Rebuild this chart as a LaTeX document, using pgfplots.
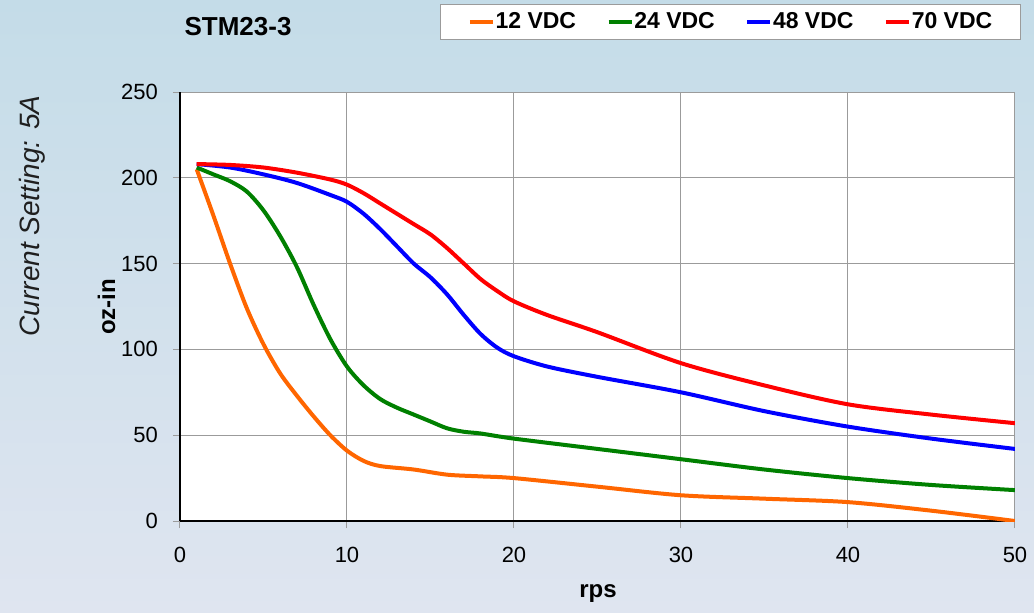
\documentclass[border=0pt]{standalone}
\usepackage{fontspec}
\setmainfont{Liberation Sans}
\usepackage{pgfplots}
\pgfplotsset{compat=1.18}
\definecolor{c12}{HTML}{FF6600}
\definecolor{c24}{HTML}{008000}
\definecolor{c48}{HTML}{0000FF}
\definecolor{c70}{HTML}{FF0000}
\definecolor{gridgray}{RGB}{155,155,155}
\definecolor{bgtop}{RGB}{196,220,232}
\definecolor{bgbot}{RGB}{223,229,240}
\begin{document}
\begin{tikzpicture}
\shade[top color=bgtop, bottom color=bgbot] (-90pt,-45.5pt) rectangle (427pt,260.5pt);
\begin{axis}[
  at={(0,0)}, anchor=south west,
  scale only axis, width=417.5pt, height=214.5pt,
  xmin=0, xmax=50, ymin=0, ymax=250,
  xtick={0,10,...,50}, ytick={0,50,...,250},
  axis lines=left, axis line style={-, black, line width=0.6pt},
  axis background/.style={fill=white},
  grid=major, major grid style={draw=gridgray, line width=0.5pt},
  tick align=outside, major tick length=3.5pt,
  tick style={gridgray, line width=0.5pt},
  /pgf/number format/assume math mode=true,
  tick label style={font=\fontsize{11}{13}\selectfont},
  yticklabel style={xshift=-4pt},
  xticklabel style={yshift=-6pt},
  xlabel={rps}, ylabel={oz-in},
  xlabel style={at={(axis description cs:0.5006,-0.168)}, anchor=center, font=\bfseries\fontsize{12}{14}\selectfont},
  ylabel style={at={(axis description cs:-0.088,0.499)}, anchor=center, rotate=0, font=\bfseries\fontsize{12}{14}\selectfont},
  title={STM23-3},
  title style={at={(axis description cs:0.0695,1.1235)}, anchor=center, font=\bfseries\fontsize{13}{15}\selectfont},
  legend columns=4,
  legend image code/.code={\draw[#1, line width=2pt] (0pt,0pt)--(11.5pt,0pt);},
  legend style={at={(axis description cs:1.0066,1.2051)}, anchor=north east,
    draw=gridgray, fill=white, inner xsep=13.5pt, inner ysep=3pt,
    font=\bfseries\fontsize{11.5}{13}\selectfont,
    nodes={inner xsep=0.4pt, inner ysep=1pt},
    /tikz/every even column/.append style={column sep=14.8pt}},
  every axis plot/.append style={line width=2pt, smooth, tension=0.5, no markers},
]
\addplot[c12] coordinates {(1,205) (2,178) (3,150) (4,124) (5,103) (6,86) (7,73) (8,61) (9,50) (10,41) (11,35) (12,32) (14,30) (16,27) (18,26) (20,25) (25,20) (30,15) (35,13) (40,11) (45,6) (50,0)};
\addlegendentry{12 VDC}
\addplot[c24] coordinates {(1,206) (2,202) (3,198) (4,192) (5,181) (6,166) (7,148) (8,126) (9,106) (10,90) (11,79) (12,71) (13,66) (14,62) (15,58) (16,54) (17,52) (18,51) (20,48) (25,42) (30,36) (35,30) (40,25) (45,21) (50,18)};
\addlegendentry{24 VDC}
\addplot[c48] coordinates {(1,208) (3,206) (5,202) (7,197) (9,190) (10,186) (11,179) (12,170) (13,160) (14,150) (15,142) (16,132) (17,120) (18,109) (19,101) (20,96) (22,90) (25,84) (30,75) (35,64) (40,55) (45,48) (50,42)};
\addlegendentry{48 VDC}
\addplot[c70] coordinates {(1,208) (3,207.5) (5,206) (7,203) (9,199) (10,196) (11,191) (12,185) (13,179) (14,173) (15,167) (16,159) (17,150) (18,141) (19,134) (20,128) (22,120) (25,110) (30,92) (35,79) (40,68) (45,62) (50,57)};
\addlegendentry{70 VDC}
\end{axis}
\node[rotate=90, anchor=center, font=\itshape\fontsize{14}{16}\selectfont, text=black!88] at (-73.7pt,152.5pt) {Current Setting: 5A};
\end{tikzpicture}
\end{document}
